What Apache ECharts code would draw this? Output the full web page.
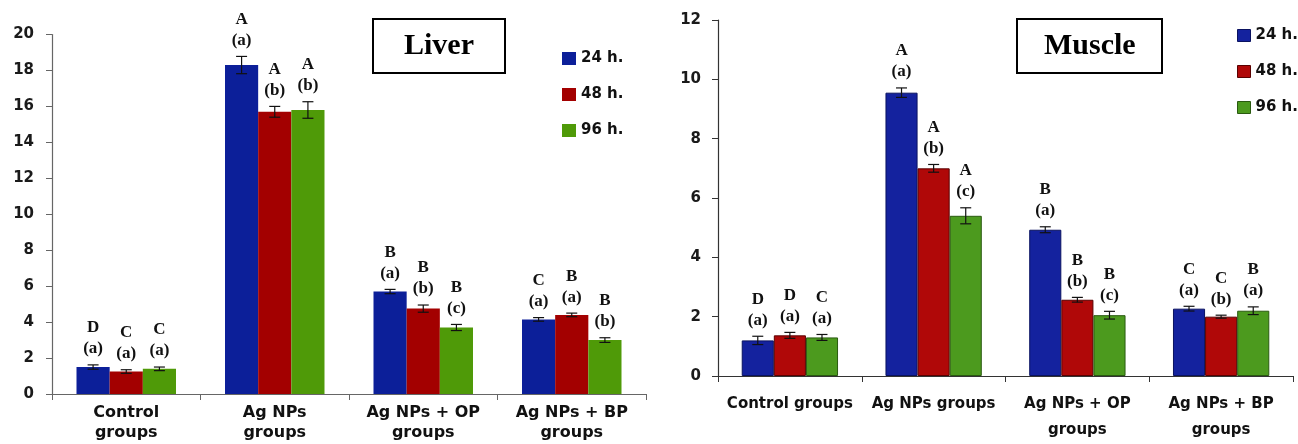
<!DOCTYPE html>
<html>
<head>
<meta charset="utf-8">
<script src="https://cdn.jsdelivr.net/npm/echarts@6/dist/echarts.min.js"></script>
<style>html,body{margin:0;padding:0;background:#fff;}#c{width:1298px;height:444px;}</style>
</head>
<body>
<div id="c"></div>
<script>
// ---------- DATA ----------
const seriesNames = ['24 h.', '48 h.', '96 h.'];

const liverCategories = ['Control\ngroups', 'Ag NPs\ngroups', 'Ag NPs + OP\ngroups', 'Ag NPs + BP\ngroups'];
const liver24 = [1.5, 18.3, 5.7, 4.15];
const liver48 = [1.25, 15.7, 4.75, 4.4];
const liver96 = [1.4, 15.8, 3.7, 3.0];
const liverErr24 = [0.12, 0.48, 0.12, 0.1];
const liverErr48 = [0.1, 0.3, 0.2, 0.1];
const liverErr96 = [0.1, 0.46, 0.17, 0.13];
const liverLetters24 = ['D', 'A', 'B', 'C'];
const liverLetters48 = ['C', 'A', 'B', 'B'];
const liverLetters96 = ['C', 'A', 'B', 'B'];
const liverSub24 = ['(a)', '(a)', '(a)', '(a)'];
const liverSub48 = ['(a)', '(b)', '(b)', '(a)'];
const liverSub96 = ['(a)', '(b)', '(c)', '(b)'];
const liverTicks = [0, 2, 4, 6, 8, 10, 12, 14, 16, 18, 20];

const muscleCategories = ['Control groups', 'Ag NPs groups', 'Ag NPs + OP\ngroups', 'Ag NPs + BP\ngroups'];
const muscle24 = [1.2, 9.55, 4.93, 2.27];
const muscle48 = [1.37, 7.0, 2.57, 2.0];
const muscle96 = [1.3, 5.4, 2.05, 2.2];
const muscleErr24 = [0.14, 0.16, 0.1, 0.08];
const muscleErr48 = [0.1, 0.13, 0.08, 0.05];
const muscleErr96 = [0.1, 0.27, 0.13, 0.13];
const muscleLetters24 = ['D', 'A', 'B', 'C'];
const muscleLetters48 = ['D', 'A', 'B', 'C'];
const muscleLetters96 = ['C', 'A', 'B', 'B'];
const muscleSub24 = ['(a)', '(a)', '(a)', '(a)'];
const muscleSub48 = ['(a)', '(b)', '(b)', '(b)'];
const muscleSub96 = ['(a)', '(c)', '(c)', '(a)'];
const muscleTicks = [0, 2, 4, 6, 8, 10, 12];

// ---------- STYLE ----------
const liverColors = ['#0c1f99', '#a30000', '#4f9a08'];
const muscleColors = ['#14229e', '#b00808', '#4c9a1e'];
const muscleBorders = ['#0a1260', '#5a0000', '#2a5a10'];
const GAP = 0.33;

function errorSeries(name, gridIdx, j, vals, errs, letters, subs) {
  return {
    type: 'custom',
    name: name + ' err',
    xAxisIndex: gridIdx, yAxisIndex: gridIdx,
    silent: true,
    z: 5,
    data: vals.map((v, i) => [i, v, errs[i]]),
    renderItem: function (params, api) {
      const i = api.value(0), v = api.value(1), e = api.value(2);
      const catW = api.size([1, 0])[0];
      const barW = catW * (1 - GAP) / 3;
      const cx = api.coord([i, v])[0] + (j - 1) * barW;
      const yTop = api.coord([i, v + e])[1];
      const yBot = api.coord([i, v - e])[1];
      const cap = 5.5;
      const ls = { stroke: '#111', lineWidth: 1.2 };
      const txt = { fontFamily: 'Liberation Serif', fontWeight: 'bold', fontSize: 17, fill: '#111', align: 'center', verticalAlign: 'middle' };
      return {
        type: 'group',
        children: [
          { type: 'line', shape: { x1: cx, y1: yTop, x2: cx, y2: yBot }, style: ls },
          { type: 'line', shape: { x1: cx - cap, y1: yTop, x2: cx + cap, y2: yTop }, style: ls },
          { type: 'line', shape: { x1: cx - cap, y1: yBot, x2: cx + cap, y2: yBot }, style: ls },
          { type: 'text', x: cx, y: yTop - 16, style: Object.assign({ text: subs[params.dataIndex] }, txt) },
          { type: 'text', x: cx, y: yTop - 37, style: Object.assign({ text: letters[params.dataIndex] }, txt) }
        ]
      };
    }
  };
}

const liverVals = [liver24, liver48, liver96];
const liverErrs = [liverErr24, liverErr48, liverErr96];
const liverLetters = [liverLetters24, liverLetters48, liverLetters96];
const liverSubs = [liverSub24, liverSub48, liverSub96];
const muscleVals = [muscle24, muscle48, muscle96];
const muscleErrs = [muscleErr24, muscleErr48, muscleErr96];
const muscleLetters = [muscleLetters24, muscleLetters48, muscleLetters96];
const muscleSubs = [muscleSub24, muscleSub48, muscleSub96];

const series = [];
seriesNames.forEach((n, j) => {
  series.push({
    type: 'bar', name: n, xAxisIndex: 0, yAxisIndex: 0,
    data: liverVals[j], barGap: '0%', barCategoryGap: (GAP * 100) + '%',
    itemStyle: { color: liverColors[j] }
  });
});
seriesNames.forEach((n, j) => {
  series.push({
    type: 'bar', name: n, xAxisIndex: 1, yAxisIndex: 1,
    data: muscleVals[j], barGap: '0%', barCategoryGap: (GAP * 100) + '%',
    itemStyle: { color: muscleColors[j], borderColor: muscleBorders[j], borderWidth: 1 }
  });
});
seriesNames.forEach((n, j) => series.push(errorSeries(n, 0, j, liverVals[j], liverErrs[j], liverLetters[j], liverSubs[j])));
seriesNames.forEach((n, j) => series.push(errorSeries(n, 1, j, muscleVals[j], muscleErrs[j], muscleLetters[j], muscleSubs[j])));

const yLabel = { fontFamily: 'DejaVu Sans', fontWeight: 'bold', fontSize: 15, color: '#1a1a1a' };

const option = {
  animation: false,
  backgroundColor: '#fff',
  title: [
    { text: 'Liver', left: 373, top: 19, padding: [11, 31, 11, 31], borderColor: '#000', borderWidth: 2,
      textStyle: { fontFamily: 'Liberation Serif', fontWeight: 'bold', fontSize: 30, lineHeight: 32, color: '#000' } },
    { text: 'Muscle', left: 1017, top: 19, padding: [11, 27, 11, 27], borderColor: '#000', borderWidth: 2,
      textStyle: { fontFamily: 'Liberation Serif', fontWeight: 'bold', fontSize: 30, lineHeight: 32, color: '#000' } }
  ],
  legend: [
    { orient: 'vertical', left: 562, top: 51, padding: 0, itemWidth: 14, itemHeight: 13, itemGap: 21,
      data: seriesNames.map((n, j) => ({ name: n, icon: 'rect', itemStyle: { color: liverColors[j], borderWidth: 0 } })),
      textStyle: { fontFamily: 'DejaVu Sans', fontWeight: 'bold', fontSize: 15, color: '#111' }, selectedMode: false },
    { orient: 'vertical', left: 1237, top: 28, padding: 0, itemWidth: 13, itemHeight: 12, itemGap: 21,
      data: seriesNames.map((n, j) => ({ name: n, icon: 'rect', itemStyle: { color: muscleColors[j], borderColor: muscleBorders[j], borderWidth: 1 } })),
      textStyle: { fontFamily: 'DejaVu Sans', fontWeight: 'bold', fontSize: 15, color: '#111' }, selectedMode: false }
  ],
  grid: [
    { left: 52, right: 652, top: 34.5, bottom: 50 },
    { left: 718, right: 5, top: 20, bottom: 68 }
  ],
  xAxis: [
    { type: 'category', gridIndex: 0, data: liverCategories,
      axisLine: { lineStyle: { color: '#666', width: 1.2 } },
      axisTick: { show: true, length: 6, lineStyle: { color: '#666' } },
      axisLabel: { fontFamily: 'DejaVu Sans', fontWeight: 'bold', fontSize: 16, lineHeight: 20, color: '#111', margin: 9, interval: 0 } },
    { type: 'category', gridIndex: 1, data: muscleCategories,
      axisLine: { lineStyle: { color: '#333', width: 1.2 } },
      axisTick: { show: true, length: 6, lineStyle: { color: '#333' } },
      axisLabel: { fontFamily: 'DejaVu Sans', fontWeight: 'bold', fontSize: 15, lineHeight: 26, color: '#111', margin: 15, interval: 0 } }
  ],
  yAxis: [
    { type: 'value', gridIndex: 0, min: liverTicks[0], max: liverTicks[liverTicks.length - 1], interval: 2,
      splitLine: { show: false },
      axisLine: { show: true, lineStyle: { color: '#666', width: 1.2 } },
      axisTick: { show: true, length: 6, lineStyle: { color: '#666' } },
      axisLabel: Object.assign({ margin: 18 }, yLabel) },
    { type: 'value', gridIndex: 1, min: muscleTicks[0], max: muscleTicks[muscleTicks.length - 1], interval: 2,
      splitLine: { show: false },
      axisLine: { show: true, lineStyle: { color: '#333', width: 1.2 } },
      axisTick: { show: true, length: 6, lineStyle: { color: '#333' } },
      axisLabel: Object.assign({ margin: 17 }, yLabel) }
  ],
  series: series
};

const chart = echarts.init(document.getElementById('c'), null, { renderer: 'canvas' });
chart.setOption(option);
</script>
</body>
</html>
